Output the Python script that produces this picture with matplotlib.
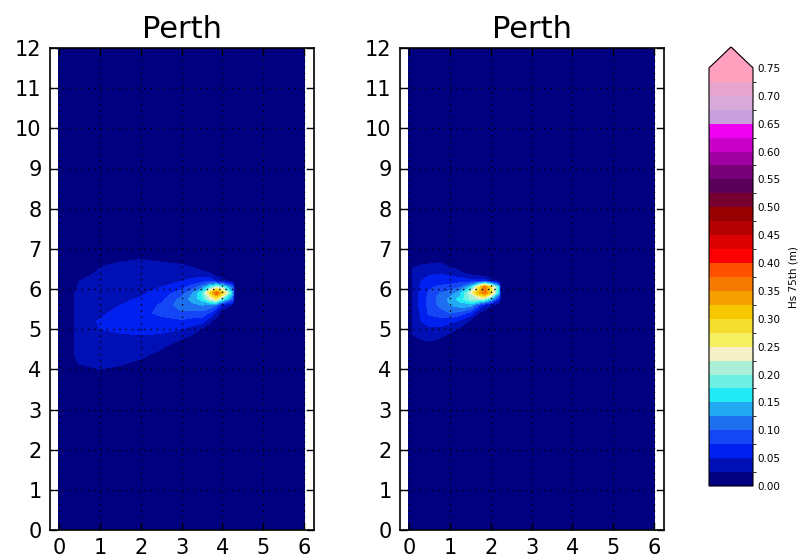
import numpy as np
import matplotlib
matplotlib.use("Agg")
import matplotlib.pyplot as plt
from matplotlib.colors import ListedColormap, BoundaryNorm

# grid rows (y) shared by both panels
ys = [3.8, 4.0, 4.2, 4.4, 4.6, 4.8, 5.0, 5.2, 5.4, 5.6, 5.75, 5.9, 6.05, 6.2, 6.4, 6.6, 6.8, 7.0]

# left panel
xs_left = [0.0, 0.25, 0.5, 1.0, 1.5, 2.0, 2.5, 3.0, 3.25, 3.5, 3.7, 3.85, 4.0, 4.25, 4.3]
hs_left = [
    [0, 0, 0, .01, .01, 0, 0, 0, 0, 0, 0, 0, 0, 0, 0],
    [0, 0, .015, .025, .02, .01, 0, 0, 0, 0, 0, 0, 0, 0, 0],
    [0, .01, .03, .035, .03, .022, .01, 0, 0, 0, 0, 0, 0, 0, 0],
    [0, .01, .04, .04, .035, .032, .02, .005, 0, 0, 0, 0, 0, 0, 0],
    [0, .01, .04, .042, .04, .038, .03, .015, .008, 0, 0, 0, 0, 0, 0],
    [0, .01, .04, .045, .045, .047, .043, .028, .02, .01, 0, 0, 0, 0, 0],
    [0, .01, .04, .05, .055, .058, .058, .05, .04, .02, .008, 0, 0, 0, 0],
    [0, .01, .04, .052, .06, .065, .068, .07, .065, .06, .03, .01, 0, 0, 0],
    [0, .01, .04, .045, .058, .068, .08, .095, .09, .09, .07, .04, .01, 0, 0],
    [0, .01, .04, .042, .05, .062, .078, .115, .118, .125, .12, .1, .05, .02, 0],
    [0, .01, .04, .04, .046, .052, .068, .108, .135, .16, .22, .26, .18, .1, 0],
    [0, .01, .038, .039, .042, .046, .06, .088, .12, .17, .29, .38, .3, .14, 0],
    [0, 0, .032, .037, .04, .043, .05, .065, .085, .115, .17, .21, .19, .1, 0],
    [0, 0, .025, .035, .038, .04, .045, .05, .055, .065, .07, .045, .035, .015, 0],
    [0, 0, .01, .03, .035, .037, .038, .04, .04, .03, .025, .01, 0, 0, 0],
    [0, 0, 0, .022, .03, .032, .03, .026, .02, .01, .005, 0, 0, 0, 0],
    [0, 0, 0, .01, .015, .022, .015, .01, 0, 0, 0, 0, 0, 0, 0],
    [0, 0, 0, 0, 0, .01, 0, 0, 0, 0, 0, 0, 0, 0, 0],
]

# right panel
xs_right = [0.0, 0.05, 0.1, 0.3, 0.5, 0.75, 1.0, 1.25, 1.5, 1.7, 1.85, 2.0, 2.2, 2.25]
hs_right = [
    [0, 0, 0, 0, 0, 0, 0, 0, 0, 0, 0, 0, 0, 0],
    [0, 0, 0, 0, 0, 0, 0, 0, 0, 0, 0, 0, 0, 0],
    [0, 0, 0, 0, 0, 0, 0, 0, 0, 0, 0, 0, 0, 0],
    [0, 0, 0, 0, 0, 0, 0, 0, 0, 0, 0, 0, 0, 0],
    [0, 0, 0, .01, .015, .01, 0, 0, 0, 0, 0, 0, 0, 0],
    [0, 0, .02, .03, .035, .027, .015, .005, 0, 0, 0, 0, 0, 0],
    [0, 0, .035, .04, .045, .045, .035, .02, .005, 0, 0, 0, 0, 0],
    [0, 0, .04, .05, .06, .062, .058, .045, .02, .005, 0, 0, 0, 0],
    [0, 0, .04, .052, .08, .09, .1, .09, .065, .025, .01, 0, 0, 0],
    [0, 0, .04, .055, .085, .105, .125, .14, .14, .085, .05, .03, .005, 0],
    [0, 0, .04, .055, .085, .108, .13, .16, .2, .21, .2, .15, .06, 0],
    [0, 0, .04, .055, .08, .1, .11, .14, .22, .32, .37, .29, .14, 0],
    [0, 0, .04, .052, .07, .08, .085, .1, .15, .26, .37, .28, .15, 0],
    [0, 0, .04, .05, .06, .062, .062, .065, .06, .06, .06, .035, .02, 0],
    [0, 0, .035, .04, .045, .048, .042, .03, .015, .005, 0, 0, 0, 0],
    [0, 0, .02, .025, .027, .03, .02, .01, 0, 0, 0, 0, 0, 0],
    [0, 0, 0, .005, .01, .01, 0, 0, 0, 0, 0, 0, 0, 0],
    [0, 0, 0, 0, 0, 0, 0, 0, 0, 0, 0, 0, 0, 0],
]

titles = ["Perth", "Perth"]
cbar_label = "Hs 75th (m)"

colors = ["#000080", "#0010b4", "#0020f0", "#1446f5", "#1e6ef0", "#22aaf5",
          "#22eaf5", "#6ef0e2", "#aaf0d6", "#f5f0c8", "#f5f05f", "#f5de30",
          "#f5c800", "#f5a000", "#f57800", "#ff5000", "#ff0000", "#dc0000",
          "#b40000", "#960000", "#780030", "#5a005a", "#780078", "#a000a0",
          "#c800c8", "#f000f0", "#c8a0dc", "#d7aad7", "#e6a5cd", "#ffa0be"]
levels = np.linspace(0, 0.75, 31)
cmap = ListedColormap(colors)
cmap.set_over("#ffa0be")
norm = BoundaryNorm(levels, cmap.N)


def full_field(xs, table):
    x = np.array(xs + [6.0])
    y = np.array([0.0] + ys + [12.0])
    z = np.zeros((len(y), len(x)))
    z[1:-1, :-1] = np.array(table)
    return x, y, z


fig = plt.figure(figsize=(8.02, 5.6), dpi=100)
ax_pos = [[50 / 802, 30 / 560, 264 / 802, 482 / 560],
          [400 / 802, 30 / 560, 264 / 802, 482 / 560]]

cs = None
for pos, xs, table, title in zip(ax_pos, [xs_left, xs_right], [hs_left, hs_right], titles):
    ax = fig.add_axes(pos)
    x, y, z = full_field(xs, table)
    cs = ax.contourf(x, y, z, levels=levels, cmap=cmap, norm=norm, extend="max")
    ax.set_xlim(-0.22, 6.24)
    ax.set_ylim(0, 12)
    ax.set_xticks(range(0, 7))
    ax.set_yticks(range(0, 13))
    ax.grid(True, color="black", linestyle=(0, (1, 3.5)), linewidth=1.0)
    ax.tick_params(direction="in", length=5, width=1, top=True, right=True,
                   labelsize=15, pad=6)
    for sp in ax.spines.values():
        sp.set_linewidth(1.2)
    ax.set_title(title, fontsize=22, pad=7)

cax = fig.add_axes([709 / 802, 74 / 560, 44 / 802, 439 / 560])
cb = fig.colorbar(cs, cax=cax, ticks=np.arange(0, 0.76, 0.05), format="%.2f")
cb.ax.tick_params(length=0, labelsize=7.5, pad=3)
cb.outline.set_linewidth(0.8)
cb.set_label(cbar_label, fontsize=7.5, labelpad=6)

fig.savefig("out.png", dpi=100)
